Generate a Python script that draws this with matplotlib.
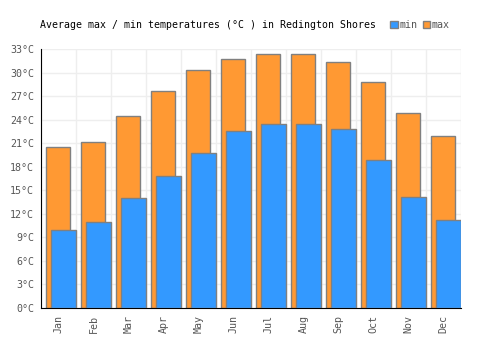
import matplotlib
matplotlib.use("Agg")
import matplotlib.pyplot as plt
from matplotlib.patches import Patch

months = ['Jan', 'Feb', 'Mar', 'Apr', 'May', 'Jun', 'Jul', 'Aug', 'Sep', 'Oct', 'Nov', 'Dec']
t_max = [20.5, 21.2, 24.5, 27.6, 30.3, 31.7, 32.3, 32.3, 31.4, 28.8, 24.9, 21.9]
t_min = [10.0, 10.9, 14.0, 16.8, 19.8, 22.5, 23.5, 23.5, 22.8, 18.9, 14.2, 11.2]
y_ticks = list(range(0, 34, 3))

orange = '#ff9933'
blue = '#3399ff'
edge = '#808080'
font = 'DejaVu Sans Mono'

fig = plt.figure(figsize=(5, 3.5), dpi=100)
ax = fig.add_axes([41 / 500, 42 / 350, 420 / 500, 259 / 350])

x = range(len(months))
ax.bar([i + 0.143 for i in x], t_max, width=0.686, align='edge',
       color=orange, edgecolor=edge, linewidth=1, zorder=2)
ax.bar([i + 0.286 for i in x], t_min, width=0.714, align='edge',
       color=blue, edgecolor=edge, linewidth=1, zorder=3)

ax.set_xlim(0, 12)
ax.set_ylim(0, 33)
ax.set_yticks(y_ticks)
ax.set_yticklabels([f'{v}°C' for v in y_ticks], family=font, fontsize=7.2, color='#555555')
ax.set_xticks([i + 0.5 for i in x])
ax.set_xticklabels(months, rotation=90, family=font, fontsize=7.2, color='#555555')
ax.set_xticks(range(13), minor=True)
ax.grid(True, which='minor', axis='x', color='#eeeeee', linewidth=1, zorder=0)
ax.grid(True, which='major', axis='y', color='#eeeeee', linewidth=1, zorder=0)
ax.tick_params(axis='both', which='both', length=0, pad=5)
ax.set_axisbelow(True)
for s in ['top', 'right']:
    ax.spines[s].set_visible(False)
ax.spines['left'].set_color('black')
ax.spines['bottom'].set_color('black')

fig.text(40 / 500, 1 - 25 / 350, 'Average max / min temperatures (°C ) in Redington Shores',
         family=font, fontsize=7.1, va='center', ha='left', color='black')

handles = [Patch(facecolor=blue, edgecolor=edge, label='min'),
           Patch(facecolor=orange, edgecolor=edge, label='max')]
fig.legend(handles=handles, loc='center left', bbox_to_anchor=(390 / 500, 1 - 25 / 350),
           ncol=2, frameon=False, prop={'family': font, 'size': 7.2},
           handlelength=0.75, handleheight=0.75, handletextpad=0.2, columnspacing=0.5,
           labelcolor='#555555', borderaxespad=0, borderpad=0)

fig.savefig('out.png', dpi=100)
